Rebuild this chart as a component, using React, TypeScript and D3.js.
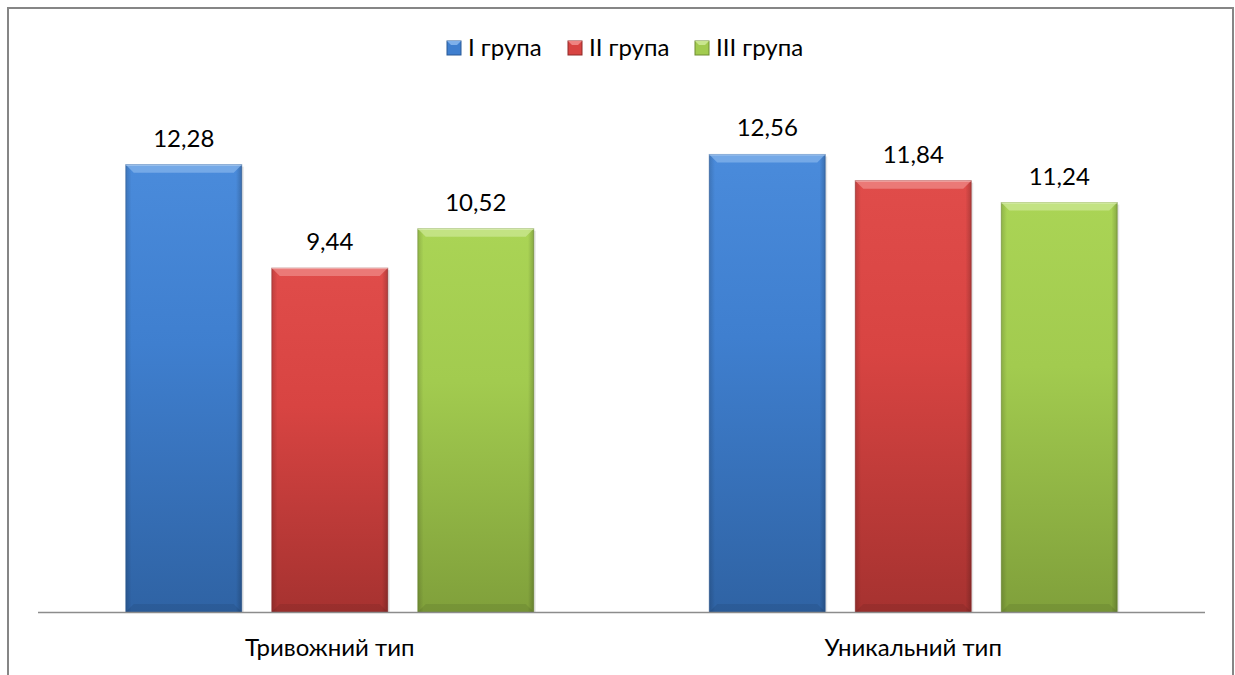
// @ts-nocheck
import * as d3 from 'd3';
import React, { useEffect, useRef } from 'react';

const categories = ['Тривожний тип', 'Уникальний тип'];
const seriesNames = ['I група', 'II група', 'III група'];
const group1 = [12.28, 9.44, 10.52];
const group2 = [12.56, 11.84, 11.24];
const values = [group1, group2];

const palette = [
  { light: '#4a8bdb', mid: '#3f7fcf', dark: '#2f63a4', top: '#7fb0ea', edge: '#2a5a96' },
  { light: '#e04c4a', mid: '#d84442', dark: '#a63230', top: '#ee8482', edge: '#8e2a28' },
  { light: '#aad455', mid: '#a2cb4f', dark: '#80a03b', top: '#c9e68e', edge: '#6e8c32' },
];

const W = 1235;
const H = 675;

export default function App() {
  const ref = useRef(null);

  useEffect(() => {
    const svg = d3.select(ref.current);
    svg.selectAll('*').remove();

    const font = 'Lato, "Open Sans", sans-serif';
    const plot = { left: 38, right: 1205, top: 102, bottom: 612 };

    const defs = svg.append('defs');
    palette.forEach((c, i) => {
      const g = defs.append('linearGradient').attr('id', `bar${i}`).attr('x1', 0).attr('x2', 0).attr('y1', 0).attr('y2', 1);
      g.append('stop').attr('offset', '0%').attr('stop-color', c.light);
      g.append('stop').attr('offset', '40%').attr('stop-color', c.mid);
      g.append('stop').attr('offset', '100%').attr('stop-color', c.dark);
      const s = defs.append('linearGradient').attr('id', `side${i}`).attr('x1', 0).attr('x2', 1).attr('y1', 0).attr('y2', 0);
      s.append('stop').attr('offset', '0%').attr('stop-color', '#000').attr('stop-opacity', 0.15);
      s.append('stop').attr('offset', '5%').attr('stop-color', '#000').attr('stop-opacity', 0);
      s.append('stop').attr('offset', '95%').attr('stop-color', '#000').attr('stop-opacity', 0);
      s.append('stop').attr('offset', '100%').attr('stop-color', '#000').attr('stop-opacity', 0.2);
    });

    // outer border
    svg.append('rect')
      .attr('x', 8).attr('y', 8).attr('width', 1225).attr('height', 700)
      .attr('fill', '#fff').attr('stroke', '#868686').attr('stroke-width', 2);

    const x0 = d3.scaleBand().domain(categories).range([plot.left, plot.right]).padding(0);
    const x1 = d3.scaleBand().domain(seriesNames).range([0, x0.bandwidth()]).paddingInner(0.2055).paddingOuter(0.601);
    const y = d3.scaleLinear().domain([0, 14]).range([plot.bottom, plot.top]);

    categories.forEach((cat, ci) => {
      const grp = svg.append('g').attr('transform', `translate(${x0(cat)},0)`);
      seriesNames.forEach((s, si) => {
        const v = values[ci][si];
        const bx = x1(s);
        const bw = x1.bandwidth();
        const by = y(v);
        const bh = plot.bottom - by;
        // soft shadow
        grp.append('rect').attr('x', bx + 2).attr('y', by + 2).attr('width', bw).attr('height', bh - 2)
          .attr('fill', '#000').attr('opacity', 0.1);
        grp.append('rect').attr('x', bx).attr('y', by).attr('width', bw).attr('height', bh)
          .attr('fill', `url(#bar${si})`).attr('stroke', palette[si].edge).attr('stroke-opacity', 0.5);
        grp.append('rect').attr('x', bx).attr('y', by).attr('width', bw).attr('height', bh)
          .attr('fill', `url(#side${si})`);
        // bevel
        const b = 8;
        grp.append('path')
          .attr('d', `M${bx},${by}L${bx + bw},${by}L${bx + bw - b},${by + b}L${bx + b},${by + b}Z`)
          .attr('fill', palette[si].top).attr('opacity', 0.8);
        grp.append('path')
          .attr('d', `M${bx},${by + bh}L${bx + bw},${by + bh}L${bx + bw - b},${by + bh - b}L${bx + b},${by + bh - b}Z`)
          .attr('fill', '#000').attr('opacity', 0.08);
        grp.append('line').attr('x1', bx).attr('x2', bx + bw).attr('y1', by + 0.5).attr('y2', by + 0.5)
          .attr('stroke', '#fff').attr('stroke-opacity', 0.4);
        grp.append('text')
          .attr('x', bx + bw / 2).attr('y', by - 18)
          .attr('text-anchor', 'middle')
          .style('font-family', font).style('font-size', '24px').style('fill', '#000')
          .text(d3.format('.2f')(v).replace('.', ','));
      });
      svg.append('text')
        .attr('x', x0(cat) + x0.bandwidth() / 2).attr('y', 656)
        .attr('text-anchor', 'middle')
        .style('font-family', font).style('font-size', '24px').style('fill', '#000')
        .text(cat);
    });

    // axis line
    svg.append('line').attr('x1', plot.left).attr('x2', plot.right).attr('y1', plot.bottom + 0.5).attr('y2', plot.bottom + 0.5)
      .attr('stroke', '#8c8c8c').attr('stroke-width', 1.5);

    // legend
    const legendX = [447, 568, 695];
    seriesNames.forEach((s, si) => {
      const lg = svg.append('g').attr('transform', `translate(${legendX[si]},41)`);
      lg.append('rect').attr('width', 14).attr('height', 14).attr('fill', palette[si].mid).attr('stroke', palette[si].edge);
      lg.append('path').attr('d', 'M0,0L14,0L10,4L4,4Z').attr('fill', palette[si].top);
      lg.append('text').attr('x', 21).attr('y', 15)
        .style('font-family', font).style('font-size', '24px').style('fill', '#000')
        .text(s);
    });
  }, []);

  return (
    <div style={{ position: 'fixed', left: 0, top: 0 }}>
      <svg ref={ref} width={W} height={H} style={{ display: 'block', background: '#fff' }} />
    </div>
  );
}
